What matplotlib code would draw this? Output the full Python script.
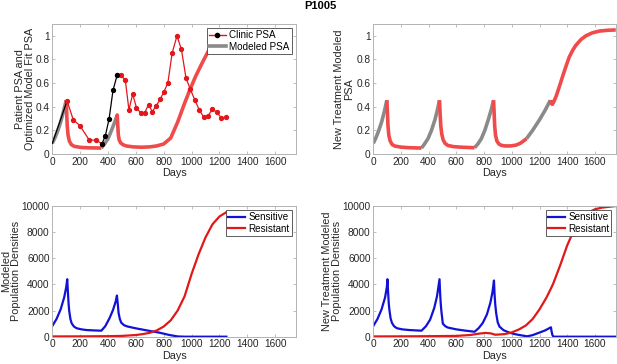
import matplotlib
matplotlib.use("Agg")
import matplotlib.pyplot as plt
from matplotlib.lines import Line2D

plt.rcParams['font.family'] = ['Liberation Sans', 'DejaVu Sans']

# ---------------- data ----------------
# Clinic PSA (top-left), segments coloured by treatment phase
clinic_black1_days = [0, 106]
clinic_black1_psa = [0.09, 0.45]
clinic_red1_days = [106, 150, 198, 264, 317, 357]
clinic_red1_psa = [0.45, 0.29, 0.24, 0.12, 0.115, 0.087]
clinic_black2_days = [357, 381, 408, 436, 465]
clinic_black2_psa = [0.087, 0.155, 0.30, 0.54, 0.665]
clinic_red2_days = [465, 490, 524, 550, 577, 604, 634, 663, 691, 718, 746, 774, 801,
                    830, 860, 895, 927, 960, 991, 1024, 1055, 1086, 1117, 1148,
                    1180, 1212, 1246]
clinic_red2_psa = [0.665, 0.665, 0.627, 0.373, 0.506, 0.393, 0.348, 0.348, 0.418,
                   0.358, 0.408, 0.463, 0.525, 0.603, 0.852, 1.0, 0.885, 0.642,
                   0.548, 0.454, 0.374, 0.313, 0.32, 0.378, 0.356, 0.307, 0.31]

# Modeled PSA (top-left)
tl_gray1_days = [0, 20, 40, 60, 80, 100]
tl_gray1_psa = [0.09, 0.14, 0.2, 0.27, 0.36, 0.455]
tl_red1_days = [100, 103, 107, 113, 122, 136, 156, 200, 260, 352]
tl_red1_psa = [0.455, 0.35, 0.24, 0.16, 0.11, 0.08, 0.065, 0.056, 0.052, 0.05]
tl_gray2_days = [352, 375, 400, 425, 448, 460]
tl_gray2_psa = [0.05, 0.085, 0.13, 0.2, 0.27, 0.31]
tl_red2_days = [460, 466, 470, 474, 480, 490, 505, 530, 580, 640, 700, 750, 800,
                850, 900, 925, 950, 990, 1030, 1080, 1120, 1150, 1200, 1250]
tl_red2_psa = [0.31, 0.33, 0.24, 0.16, 0.12, 0.095, 0.08, 0.068, 0.06, 0.057, 0.06,
               0.068, 0.085, 0.135, 0.27, 0.35, 0.43, 0.55, 0.66, 0.78, 0.87,
               0.93, 0.99, 1.03]

# New treatment modeled PSA (top-right)
tr_gray1_days = [0, 20, 40, 60, 80, 98]
tr_gray1_psa = [0.09, 0.14, 0.2, 0.27, 0.36, 0.455]
tr_red1_days = [98, 102, 106, 112, 122, 136, 156, 200, 260, 348]
tr_red1_psa = [0.455, 0.35, 0.24, 0.16, 0.11, 0.08, 0.067, 0.058, 0.053, 0.05]
tr_gray2_days = [348, 370, 395, 420, 445, 462, 478]
tr_gray2_psa = [0.05, 0.085, 0.13, 0.2, 0.29, 0.37, 0.455]
tr_red2_days = [478, 482, 487, 494, 504, 518, 538, 580, 640, 731]
tr_red2_psa = [0.455, 0.35, 0.24, 0.17, 0.12, 0.09, 0.072, 0.062, 0.057, 0.053]
tr_gray3_days = [731, 755, 780, 805, 830, 850, 868]
tr_gray3_psa = [0.053, 0.085, 0.13, 0.2, 0.29, 0.37, 0.455]
tr_red3_days = [868, 872, 876, 882, 892, 906, 925, 950, 990, 1030, 1060, 1090, 1106]
tr_red3_psa = [0.455, 0.35, 0.24, 0.16, 0.11, 0.085, 0.073, 0.068, 0.068, 0.075,
               0.09, 0.115, 0.13]
tr_gray4_days = [1106, 1150, 1200, 1240, 1278]
tr_gray4_psa = [0.13, 0.2, 0.29, 0.37, 0.455]
tr_red4_days = [1278, 1285, 1292, 1302, 1320, 1340, 1366, 1390, 1414, 1440, 1462,
                1500, 1534, 1580, 1630, 1690, 1750]
tr_red4_psa = [0.455, 0.43, 0.42, 0.44, 0.49, 0.56, 0.655, 0.74, 0.82, 0.88, 0.92,
               0.97, 1.0, 1.025, 1.04, 1.047, 1.05]

# Modeled population densities (bottom-left)
bl_days_s = [0, 30, 60, 85, 100, 107, 112, 117, 121, 130, 139, 155, 174, 210, 245,
             300, 352, 380, 410, 436, 455, 464, 470, 476, 485, 495, 515, 540, 600,
             650, 700, 769, 841, 900, 950, 1000, 1250]
bl_sensitive = [820, 1350, 2100, 3000, 3800, 4400, 3400, 2500, 2000, 1350, 1020,
                780, 650, 560, 510, 480, 460, 800, 1400, 2050, 2700, 3150, 2500,
                1800, 1350, 1070, 880, 780, 640, 540, 440, 310, 130, 20, 0, 0, 0]
bl_days_r = [0, 200, 400, 500, 600, 650, 700, 750, 800, 850, 900, 950, 1000, 1050,
             1100, 1150, 1200, 1250]
bl_resistant = [20, 25, 40, 60, 130, 200, 300, 480, 780, 1250, 2000, 3100, 4800,
                6300, 7600, 8600, 9200, 9530]

# New treatment modeled population densities (bottom-right)
br_days_s = [0, 30, 60, 85, 98, 102, 107, 112, 117, 125, 135, 150, 170, 210, 260,
             348, 380, 410, 440, 460, 478, 482, 487, 492, 502, 520, 538, 600, 660,
             731, 760, 790, 820, 845, 860, 871, 875, 880, 887, 898, 911, 940, 982,
             1020, 1054, 1110, 1150, 1198, 1240, 1282, 1287, 1292, 1300, 1750]
br_sensitive = [820, 1350, 2100, 3000, 3800, 4400, 3400, 2500, 2000, 1400, 1050,
                800, 650, 560, 510, 460, 800, 1300, 2200, 3100, 4400, 3400, 2500,
                1900, 1000, 800, 700, 560, 470, 380, 650, 1050, 1700, 2600, 3400,
                4300, 3300, 2500, 1790, 1100, 770, 500, 310, 200, 130, 30, 120,
                310, 480, 720, 400, 150, 0, 0]
br_days_r = [0, 200, 400, 600, 700, 760, 810, 850, 880, 950, 1000, 1050, 1100,
             1150, 1200, 1250, 1285, 1300, 1350, 1400, 1450, 1500, 1550, 1600,
             1650, 1750]
br_resistant = [20, 25, 40, 60, 130, 230, 290, 250, 150, 200, 330, 550, 850, 1350,
                2100, 3000, 3750, 4100, 5500, 7000, 8200, 9000, 9500, 9750, 9880,
                10000]

x_ticks = [0, 200, 400, 600, 800, 1000, 1200, 1400, 1600]
psa_ticks = [0, 0.2, 0.4, 0.6, 0.8, 1.0]
psa_tick_labels = ['0', '0.2', '0.4', '0.6', '0.8', '1']
pop_ticks = [0, 2000, 4000, 6000, 8000, 10000]

# ---------------- style ----------------
C_CLINIC = '#e3161b'
C_MODEL_RED = '#f04a4a'
C_GRAY = '#8a8a8a'
C_BLUE = '#1212d6'
C_RES = '#e01818'
SPINE = '#b3b3b3'
TXT = '#262626'
FS = 7.3
LW_MODEL = 2.6

fig = plt.figure(figsize=(6.17, 3.64), dpi=100)
ax_tl = fig.add_axes([0.0848, 0.577, 0.395, 0.357])
ax_tr = fig.add_axes([0.605, 0.577, 0.393, 0.357])
ax_bl = fig.add_axes([0.0848, 0.075, 0.395, 0.359])
ax_br = fig.add_axes([0.605, 0.075, 0.393, 0.359])


def style(ax, ylim, yticks, ylabels=None):
    ax.set_xlim(0, 1750)
    ax.set_ylim(*ylim)
    ax.set_xticks(x_ticks)
    ax.set_yticks(yticks)
    if ylabels is not None:
        ax.set_yticklabels(ylabels)
    for s in ax.spines.values():
        s.set_color(SPINE)
        s.set_linewidth(0.7)
    ax.tick_params(direction='in', length=2.5, width=0.6, color=SPINE,
                   labelsize=FS, labelcolor=TXT, pad=2, top=True, right=True)
    ax.set_xlabel('Days', fontsize=FS + 0.5, color=TXT, labelpad=1)


def ylab(ax, text, xpos):
    ax.set_ylabel(text, fontsize=FS + 0.5, color=TXT, linespacing=1.0,
                  ha='center', va='center')
    ax.yaxis.set_label_coords(xpos, 0.5)


def legend(ax, handles=None, labels=None):
    kw = dict(loc='upper right', fontsize=FS - 0.2, frameon=True, fancybox=False,
              framealpha=1, edgecolor='#444444', handlelength=1.7,
              handletextpad=0.35, borderpad=0.2, labelspacing=0.12,
              borderaxespad=0.45)
    if handles is None:
        leg = ax.legend(**kw)
    else:
        leg = ax.legend(handles, labels, **kw)
    leg.get_frame().set_linewidth(0.6)
    leg.set_zorder(10)
    return leg


# top-left
ax = ax_tl
for d, v in [(tl_gray1_days, tl_gray1_psa), (tl_gray2_days, tl_gray2_psa)]:
    ax.plot(d, v, color=C_GRAY, lw=LW_MODEL, solid_capstyle='butt', zorder=2)
for d, v in [(tl_red1_days, tl_red1_psa), (tl_red2_days, tl_red2_psa)]:
    ax.plot(d, v, color=C_MODEL_RED, lw=LW_MODEL, solid_capstyle='butt', zorder=2)
ax.plot(clinic_black1_days, clinic_black1_psa, color='black', lw=0.9, zorder=3)
ax.plot(clinic_red1_days, clinic_red1_psa, color=C_CLINIC, lw=0.9, marker='o',
        ms=2.8, mfc=C_CLINIC, mec=C_CLINIC, zorder=3)
ax.plot(clinic_black2_days, clinic_black2_psa, color='black', lw=0.9, marker='o',
        ms=2.8, mfc='black', mec='black', zorder=4)
ax.plot(clinic_red2_days, clinic_red2_psa, color=C_CLINIC, lw=0.9, marker='o',
        ms=2.8, mfc=C_CLINIC, mec=C_CLINIC, zorder=3)
style(ax, (0, 1.1), psa_ticks, psa_tick_labels)
ylab(ax, 'Patient PSA and\nOptimized Model Fit PSA', -0.112)
h1 = Line2D([], [], color=C_CLINIC, lw=1.0, marker='o', ms=3, mfc='black', mec='black')
h2 = Line2D([], [], color=C_GRAY, lw=2.6)
legend(ax, [h1, h2], ['Clinic PSA', 'Modeled PSA'])

# top-right
ax = ax_tr
for d, v in [(tr_gray1_days, tr_gray1_psa), (tr_gray2_days, tr_gray2_psa),
             (tr_gray3_days, tr_gray3_psa), (tr_gray4_days, tr_gray4_psa)]:
    ax.plot(d, v, color=C_GRAY, lw=LW_MODEL, solid_capstyle='butt')
for d, v in [(tr_red1_days, tr_red1_psa), (tr_red2_days, tr_red2_psa),
             (tr_red3_days, tr_red3_psa), (tr_red4_days, tr_red4_psa)]:
    ax.plot(d, v, color=C_MODEL_RED, lw=LW_MODEL, solid_capstyle='butt')
style(ax, (0, 1.1), psa_ticks, psa_tick_labels)
ylab(ax, 'New Treatment Modeled\nPSA', -0.121)

# bottom-left
ax = ax_bl
ax.plot(bl_days_s, bl_sensitive, color=C_BLUE, lw=1.6, label='Sensitive')
ax.plot(bl_days_r, bl_resistant, color=C_RES, lw=1.6, label='Resistant')
style(ax, (0, 10000), pop_ticks)
ylab(ax, 'Modeled\nPopulation Densities', -0.168)
legend(ax)

# bottom-right
ax = ax_br
ax.plot(br_days_s, br_sensitive, color=C_BLUE, lw=1.6, label='Sensitive')
ax.plot(br_days_r, br_resistant, color=C_RES, lw=1.6, label='Resistant')
style(ax, (0, 10000), pop_ticks)
ylab(ax, 'New Treatment Modeled\nPopulation Densities', -0.172)
legend(ax)

fig.text(0.519, 0.984, 'P1005', ha='center', va='center', fontsize=FS + 0.7,
         fontweight='bold', color='black')

fig.savefig('out.png', dpi=100)
